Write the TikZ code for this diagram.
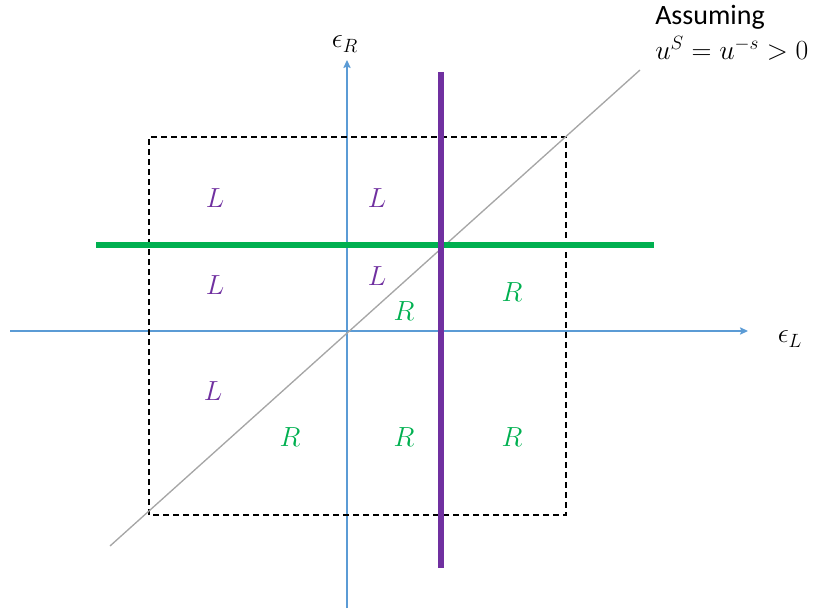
\documentclass[tikz,border=0pt]{standalone}
\usepackage{fontspec}
\setmainfont{Carlito}
\usetikzlibrary{arrows.meta}
\definecolor{axisblue}{HTML}{5B9BD5}
\definecolor{regiongreen}{HTML}{00B050}
\definecolor{regionpurple}{HTML}{7030A0}
\definecolor{diaggray}{HTML}{A6A6A6}

\begin{document}
\begin{tikzpicture}[x=0.75pt, y=-0.75pt,
    axisline/.style={axisblue, line width=0.8pt, -{Stealth[length=6pt, width=5.5pt, inset=1pt]}},
    boundbox/.style={black, line width=0.9pt, dash pattern=on 4.5pt off 3pt},
    bigtext/.style={inner sep=0pt, font=\fontsize{21}{25}\selectfont},
    lreg/.style={bigtext, text=regionpurple},
    rreg/.style={bigtext, text=regiongreen}]
  \useasboundingbox (0,0) rectangle (821,613);

  % axes
  \coordinate (xstart) at (10,331);
  \coordinate (xend) at (748,331);
  \coordinate (ystart) at (347,608);
  \coordinate (yend) at (347,60);
  \draw[axisline] (xstart) -- (xend);
  \draw[axisline] (ystart) -- (yend);
  \node[bigtext] (epsR) at (345,44) {$\epsilon_R$};
  \node[bigtext] (epsL) at (790,339) {$\epsilon_L$};

  % dashed region
  \coordinate (boxsw) at (149,515);
  \coordinate (boxne) at (566,137);
  \draw[boundbox] (boxsw) rectangle (boxne);

  % diagonal
  \coordinate (diaglo) at (110,546);
  \coordinate (diaghi) at (640,70);
  \draw[diaggray, line width=1pt] (diaglo) -- (diaghi);

  % thresholds
  \coordinate (greenw) at (96,245);
  \coordinate (greene) at (654,245);
  \coordinate (purpn) at (441,72);
  \coordinate (purps) at (441,568);
  \draw[regiongreen, line width=3.9pt] (greenw) -- (greene);
  \draw[regionpurple, line width=3.9pt] (purpn) -- (purps);

  % region labels
  \node[lreg] (Ltl) at (215,198) {$L$};
  \node[lreg] (Ltm) at (377,198) {$L$};
  \node[lreg] (Lml) at (215,285) {$L$};
  \node[lreg] (Lmm) at (377,276) {$L$};
  \node[lreg] (Lbl) at (213,391) {$L$};
  \node[rreg] (Rmm) at (404,311) {$R$};
  \node[rreg] (Rmr) at (512,292) {$R$};
  \node[rreg] (Rbl) at (290,437) {$R$};
  \node[rreg] (Rbm) at (404,437) {$R$};
  \node[rreg] (Rbr) at (512,437) {$R$};

  % assumption note
  \node[bigtext, anchor=west] (assume) at (655,17) {Assuming};
  \node[bigtext, anchor=west] (assumemath) at (655,48) {$u^S = u^{-s} > 0$};
\end{tikzpicture}
\end{document}
